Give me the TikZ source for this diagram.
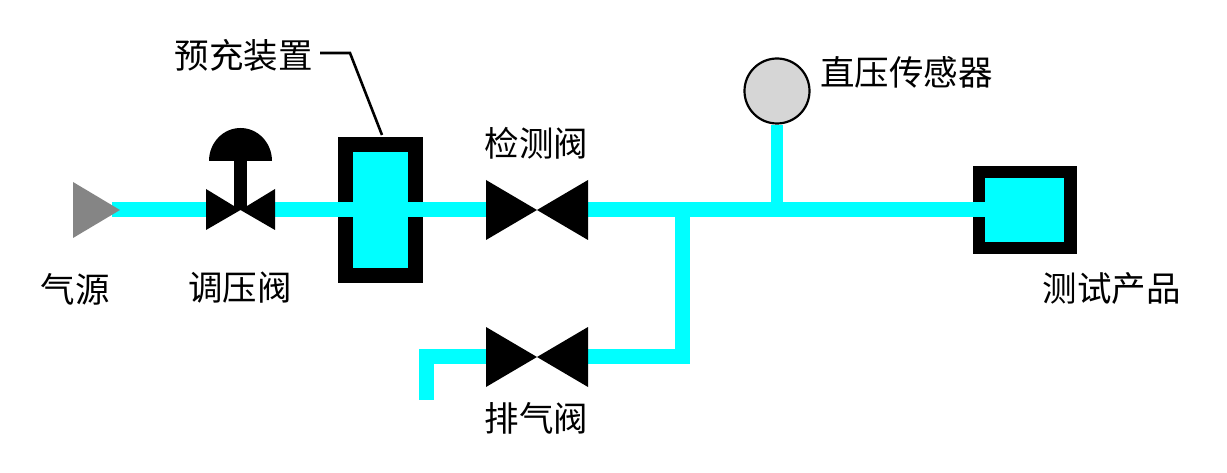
\documentclass[tikz,border=0pt]{standalone}
\usepackage{fontspec}
\setmainfont{Noto Sans CJK SC}
\usetikzlibrary{calc}
\definecolor{pipecol}{HTML}{00FFFF}
\definecolor{srcgray}{HTML}{858585}
\definecolor{gaugegray}{HTML}{D6D6D6}
\tikzset{
  pipe/.style={draw=pipecol,line width=15pt,line cap=butt,line join=miter},
  blk/.style={fill=black,draw=none},
  lbl/.style={inner sep=0pt,text=black,font=\fontsize{34.5}{37}\selectfont},
  chamber/.style={fill=pipecol,draw=none,inner sep=0pt},
  leader/.style={draw=black,line width=2.6pt}
}
\begin{document}
\begin{tikzpicture}[x=1pt,y=-1pt]
\useasboundingbox (0,0) rectangle (1227,473);
\fill[white] (0,0) rectangle (1227,473);
% named points
\coordinate (src) at (112,210);
\coordinate (regL) at (207,210);
\coordinate (regR) at (274,210);
\coordinate (chkL) at (487,210);
\coordinate (chkR) at (587,210);
\coordinate (exhL) at (487,356);
\coordinate (exhR) at (587,356);
\coordinate (tee) at (682.5,210);
\coordinate (corner) at (682.5,356);
\coordinate (elbow) at (426,356);
\coordinate (vent) at (426,400);
\coordinate (gtee) at (777,210);
% housings
\node[blk,minimum width=85pt,minimum height=146pt,inner sep=0pt] (pre) at (380.5,210) {};
\node[chamber,minimum width=55pt,minimum height=116pt] (prein) at (380.5,210) {};
\node[blk,minimum width=104pt,minimum height=88pt,inner sep=0pt] (dut) at (1025,210) {};
\node[chamber,minimum width=79pt,minimum height=64pt] (dutin) at (1024.5,210) {};
% pipes
\draw[pipe] (src) -- (regL);
\draw[pipe] (regR) -- (prein.center);
\draw[pipe] (prein.center) -- (chkL);
\draw[pipe] (chkR) -- (gtee);
\draw[pipe] (gtee) -- (dutin.center);
\draw[pipe] (tee) -- (corner) -- (exhR);
\draw[pipe] (exhL) -- (elbow) -- (vent);
% gauge
\node[circle,draw=black,line width=2.2pt,fill=gaugegray,minimum size=65pt,inner sep=0pt] (gauge) at (777,91) {};
\draw[draw=pipecol,line width=12pt] (gauge.south) -- (gtee);
% source
\fill[srcgray] (73,182) -- (120,210) -- (73,238) -- cycle;
% regulating valve
\fill[black] (206,189) -- (240.5,210) -- (275,189) -- (275,230) -- (240.5,210) -- (206,230) -- cycle;
\fill[black] (234,160) rectangle (247,210);
\fill[black] (209,161) arc[start angle=180,end angle=360,x radius=31.5,y radius=33] -- cycle;
% check and exhaust valves
\fill[black] (486,180) -- (537,210) -- (588,180) -- (588,240) -- (537,210) -- (486,240) -- cycle;
\fill[black] (486,327) -- (537,357) -- (588,327) -- (588,387) -- (537,357) -- (486,387) -- cycle;
% leader
\coordinate (lead0) at (320,53);
\coordinate (lead1) at (350,53);
\coordinate (lead2) at (382,135);
\draw[leader] (lead0) -- (lead1) -- (lead2);
% labels
\node[lbl] (l1) at (243.5,55) {预充装置};
\node[lbl] (l2) at (536.5,143) {检测阀};
\node[lbl] (l3) at (906.5,72) {直压传感器};
\node[lbl] (l4) at (75,289) {气源};
\node[lbl] (l5) at (240,288) {调压阀};
\node[lbl] (l6) at (1111.5,288) {测试产品};
\node[lbl] (l7) at (536.5,418) {排气阀};
\end{tikzpicture}
\end{document}
